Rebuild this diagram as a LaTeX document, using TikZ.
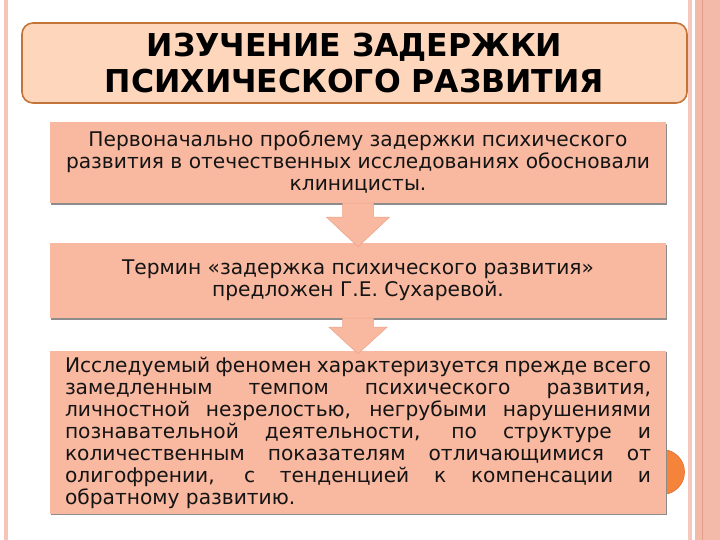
\documentclass[tikz,border=0pt]{standalone}
\usepackage{fontspec}
\setmainfont{DejaVu Sans}
\usetikzlibrary{calc}
\definecolor{leftline}{RGB}{246,196,184}
\definecolor{rightlight}{RGB}{246,200,188}
\definecolor{band}{RGB}{243,186,170}
\definecolor{bandline}{RGB}{228,156,136}
\definecolor{titlefill}{RGB}{253,214,188}
\definecolor{titledraw}{RGB}{196,116,56}
\definecolor{salmon}{RGB}{249,184,160}
\definecolor{salmonedge}{RGB}{236,162,136}
\definecolor{dotorange}{RGB}{245,132,58}
\definecolor{dotedge}{RGB}{214,110,50}
\definecolor{txt}{RGB}{20,20,20}
\tikzset{
  titlebox/.style={draw=titledraw, line width=1.6pt, fill=titlefill, rounded corners=11pt,
    minimum width=665pt, minimum height=80pt, align=center, text=black,
    font=\fontsize{31.5}{35.5}\selectfont\bfseries, inner sep=0pt},
  stepbox/.style={fill=salmon, minimum width=616pt, inner sep=0pt, text=txt,
    font=\fontsize{20.2}{22}\selectfont},
  shadowbox/.style={fill=black!45},
  arrowshape/.style={fill=salmon, draw=salmonedge, line width=0.5pt, line join=miter}
}
\begin{document}
\begin{tikzpicture}[x=1pt,y=-1pt]
\useasboundingbox (0,0) rectangle (720,540);
\fill[white] (0,0) rectangle (720,540);
% page decoration
\fill[leftline] (4,0) rectangle (8,540);
\fill[rightlight] (688,0) rectangle (692,540);
\fill[band] (695,0) rectangle (720,540);
\draw[bandline, line width=0.8pt] (702,0) -- (702,540);
% orange dot (behind box 3)
\fill[dotorange, draw=dotedge, line width=0.6pt] (662,472) circle (22.5);
% title
\node[titlebox] (title) at (354.5,63) {ИЗУЧЕНИЕ ЗАДЕРЖКИ\\ПСИХИЧЕСКОГО РАЗВИТИЯ};
% shadows
\fill[shadowbox] (51,124) rectangle (667,205);
\fill[shadowbox] (51,245) rectangle (667,320);
\fill[shadowbox] (51,352) rectangle (667,515);
% boxes
\node[stepbox, minimum height=81pt, align=center] (b1) at (358,162.5)
  {Первоначально проблему задержки психического\\развития в отечественных исследованиях обосновали\\клиницисты.};
\node[stepbox, minimum height=75pt, align=center] (b2) at (358,280.5)
  {Термин «задержка психического развития»\\предложен Г.Е. Сухаревой.};
\node[stepbox, minimum height=163pt, text width=586pt, align=justify] (b3) at (358,432.5)
  {Исследуемый феномен характеризуется прежде всего\linebreak замедленным темпом психического развития,\linebreak личностной незрелостью, негрубыми нарушениями\linebreak познавательной деятельности, по структуре и\linebreak количественным показателям отличающимися от\linebreak олигофрении, с тенденцией к компенсации и\linebreak обратному развитию.};
% arrows
\fill[arrowshape] ($(b1.south)+(-15.5,0)$) -- ($(b1.south)+(15.5,0)$) -- ($(b1.south)+(15.5,14)$)
  -- ($(b1.south)+(31.5,14)$) -- ($(b2.north)+(0,4)$) -- ($(b1.south)+(-31.5,14)$)
  -- ($(b1.south)+(-15.5,14)$) -- cycle;
\fill[arrowshape] ($(b2.south)+(-15.5,0)$) -- ($(b2.south)+(15.5,0)$) -- ($(b2.south)+(15.5,9)$)
  -- ($(b2.south)+(29,9)$) -- ($(b3.north)+(0,3)$) -- ($(b2.south)+(-29,9)$)
  -- ($(b2.south)+(-15.5,9)$) -- cycle;
\end{tikzpicture}
\end{document}
